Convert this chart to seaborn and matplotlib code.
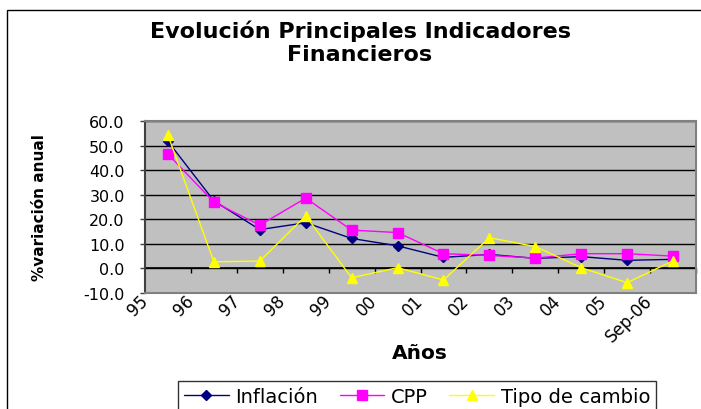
import pandas as pd
import matplotlib.pyplot as plt
import seaborn as sns
from matplotlib.patches import Rectangle
from matplotlib.ticker import FixedLocator, NullFormatter

# Data
years = ['95', '96', '97', '98', '99', '00', '01', '02', '03', '04', '05', 'Sep-06']
inflacion = [51.7, 27.5, 15.8, 18.6, 12.2, 9.2, 4.5, 5.7, 4.1, 4.8, 3.3, 3.7]
cpp = [46.5, 27.0, 17.6, 28.6, 15.6, 14.6, 6.0, 5.3, 4.2, 6.0, 6.0, 5.0]
tipo_cambio = [54.2, 2.7, 3.0, 21.4, -3.8, 0.3, -4.7, 12.5, 8.9, 0.3, -5.8, 3.1]

series = ['Inflación', 'CPP', 'Tipo de cambio']
colors = ['#000080', '#ff00ff', '#ffff00']
markers = ['D', 's', '^']
msizes = [5, 6.5, 7.5]

df = pd.DataFrame({'idx': list(range(len(years))) * 3,
                   'valor': inflacion + cpp + tipo_cambio,
                   'serie': [s for s in series for _ in years]})

sns.set_style('white')
plt.rcParams['font.family'] = ['DejaVu Sans']
plt.rcParams['text.color'] = 'black'
plt.rcParams['xtick.color'] = 'black'
plt.rcParams['ytick.color'] = 'black'

fig = plt.figure(figsize=(7.01, 4.10), dpi=100)
ax = fig.add_axes([145 / 701, 1 - 294 / 410, 551 / 701, 172 / 410])
ax.set_facecolor('#c0c0c0')

# Plot each series
for s, c, m, ms in zip(series, colors, markers, msizes):
    sns.lineplot(data=df[df['serie'] == s], x='idx', y='valor', color=c, marker=m,
                 markersize=ms, markeredgecolor=c, markeredgewidth=1, linewidth=1,
                 label=s, ax=ax, legend=False)

ax.set_xlim(-0.5, len(years) - 0.5)
ax.set_ylim(-10, 60)

# Gridlines and zero line
ax.set_yticks(range(-10, 61, 10))
ax.set_yticklabels([f'{v:.1f}' for v in range(-10, 61, 10)], fontsize=11.5)
ax.yaxis.grid(True, color='black', linewidth=1)
ax.set_axisbelow(True)
ax.tick_params(axis='y', direction='out', length=3.6, width=1, color='#404040', left=True, pad=11)

for side in ['top', 'right', 'bottom']:
    ax.spines[side].set_color('#808080')
    ax.spines[side].set_linewidth(1.5)
ax.spines['left'].set_color('#404040')
ax.spines['left'].set_linewidth(1.5)

# Category labels at boundaries below the plot area
ax.set_xticks([i - 0.5 for i in range(len(years))])
ax.set_xticklabels(years, rotation=45, ha='right', va='center', rotation_mode='anchor', fontsize=12)
ax.tick_params(axis='x', length=0, pad=3)

# Category axis crossing at zero with tick marks
sec = ax.secondary_xaxis(10 / 70)
sec.spines['bottom'].set_color('black')
sec.spines['bottom'].set_linewidth(1.2)
sec.xaxis.set_major_locator(FixedLocator([i + 0.5 for i in range(len(years))]))
sec.xaxis.set_major_formatter(NullFormatter())
sec.tick_params(axis='x', direction='out', length=3.6, width=1, color='black')

ax.set_xlabel('')
ax.set_ylabel('')

fig.text(40 / 701, 1 - 208 / 410, '%variación anual', rotation=90, ha='center', va='center',
         fontsize=11, fontweight='bold')
fig.text(420 / 701, 1 - 354 / 410, 'Años', ha='center', va='center', fontsize=14.5, fontweight='bold')
fig.text(360 / 701, 1 - 43 / 410, 'Evolución Principales Indicadores\nFinancieros', ha='center',
         va='center', fontsize=16, fontweight='bold', linespacing=1.2)

# Legend at the bottom
handles, labels = ax.get_legend_handles_labels()
leg = fig.legend(handles, labels, ncol=3, loc='upper left', bbox_to_anchor=(178 / 701, 1 - 382 / 410),
                 frameon=True, fancybox=False, edgecolor='black', fontsize=14, handlelength=2.3,
                 columnspacing=1.1, handletextpad=0.35, borderpad=0.3, borderaxespad=0)
leg.get_frame().set_linewidth(1)

# Outer chart border
fig.add_artist(Rectangle((7 / 701, -0.1), 1.0, 1 - 11 / 410 + 0.1, transform=fig.transFigure,
                         fill=False, edgecolor='black', linewidth=1))

fig.savefig('out.png', dpi=100)
